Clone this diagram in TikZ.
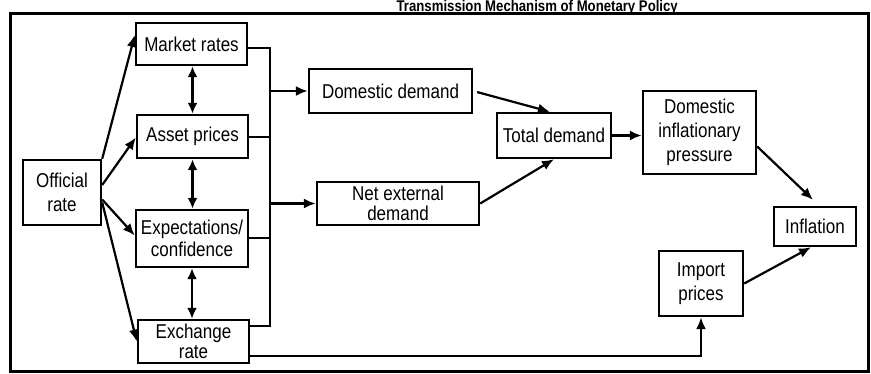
\documentclass[tikz,border=0pt]{standalone}
\usepackage{fontspec}
\setmainfont{Liberation Sans}[FakeStretch=0.85]
\usetikzlibrary{arrows.meta,calc}
\tikzset{
  box/.style={draw, line width=2.4pt, inner sep=0pt, align=center,
    font=\fontsize{20}{24}\selectfont},
  conn/.style={line width=2.2pt, -{Latex[length=12pt,width=10pt]}},
  dbl/.style={line width=2.2pt, {Latex[length=11pt,width=10pt]}-{Latex[length=11pt,width=10pt]}},
  plain/.style={line width=2.2pt},
  frame/.style={line width=3pt},
}
\begin{document}
\begin{tikzpicture}[x=1pt,y=-1pt]
\useasboundingbox (0,0) rectangle (871,374);
\fill[white] (0,0) rectangle (871,374);
\node[font=\bfseries\fontsize{15.5}{17}\selectfont, anchor=base east, inner sep=0pt] (title) at (678,11.5) {Transmission Mechanism of Monetary Policy};
\draw[frame] (10,14) rectangle (868,371);

\node[box, minimum width=78pt, minimum height=65pt] (off) at (62,192.5) {Official\\rate};
\node[box, minimum width=111pt, minimum height=42pt] (mkt) at (191.5,44) {Market rates};
\node[box, minimum width=111pt, minimum height=43pt] (ast) at (192.5,136.5) {Asset prices};
\node[box, minimum width=112pt, minimum height=57pt, font=\fontsize{20}{22}\selectfont] (exp) at (192,238.5) {Expectations/\\confidence};
\node[box, minimum width=111pt, minimum height=43pt, font=\fontsize{20}{19.5}\selectfont] (exch) at (193.5,341.5) {Exchange\\rate};
\node[box, minimum width=163pt, minimum height=44pt] (dom) at (390.5,91) {Domestic demand};
\node[box, minimum width=162pt, minimum height=43pt, font=\fontsize{20}{20}\selectfont] (net) at (398,203.5) {Net external\\demand};
\node[box, minimum width=114pt, minimum height=45pt] (tot) at (554,135.5) {Total demand};
\node[box, minimum width=113pt, minimum height=83pt] (dip) at (699.5,132.5) {Domestic\\inflationary\\pressure};
\node[box, minimum width=82pt, minimum height=39pt] (inf) at (815,226.5) {Inflation};
\node[box, minimum width=84pt, minimum height=65pt] (imp) at (701,283.5) {Import\\prices};

% bus on the right of the left column
\coordinate (b1) at (270,48);
\coordinate (b2) at (270,137);
\coordinate (b3) at (270,238);
\coordinate (b4) at (270,326);
\coordinate (bd) at (270,91);
\coordinate (bn) at (270,203.5);
\draw[plain, line join=miter] (mkt.east |- b1) -- (b1) -- (b4) -- (exch.east |- b4);
\draw[plain] (ast.east |- b2) -- (b2);
\draw[plain] (exp.east |- b3) -- (b3);
\draw[conn] (bd) -- (dom.west);
\draw[conn] (bn) -- (net.west);

% official rate fan
\draw[conn] (off.north east) -- ([yshift=9pt]mkt.west);
\draw[conn] ([yshift=7.5pt]off.east) -- ([yshift=-1pt]ast.west);
\draw[conn] ([yshift=-7pt]off.east) -- ([yshift=3pt]exp.west);
\draw[conn] ([yshift=-10pt]off.east) -- (exch.west);

% double arrows
\draw[dbl] (ast.north) -- (ast.north |- mkt.south);
\draw[dbl] (ast.south) -- (ast.south |- exp.north);
\draw[dbl] (exp.south) -- (exp.south |- exch.north);

% demand side
\draw[conn, shorten <=4pt] (dom.east) -- ([xshift=-4pt]tot.north);
\draw[conn] (net.east) -- (tot.south);
\draw[conn] (tot.east) -- (tot.east -| dip.west);
\draw[conn] ([yshift=-14pt]dip.east) -- ([xshift=-2pt,yshift=6pt]inf.north);
\draw[conn] (imp.east) -- ([xshift=-4pt]inf.south);

% exchange rate to import prices
\coordinate (ei) at (701,356);
\draw[conn] (exch.east |- ei) -- (ei) -- (imp.south);
\end{tikzpicture}
\end{document}
